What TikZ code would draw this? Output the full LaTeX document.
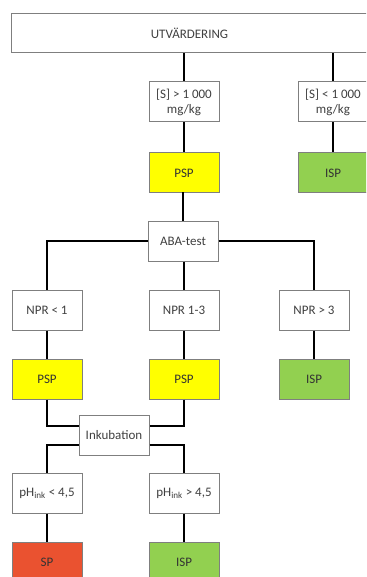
\documentclass[tikz,border=0pt]{standalone}
\usepackage{fontspec}
\setmainfont{Carlito}
\definecolor{txt}{HTML}{404040}
\definecolor{bordc}{HTML}{7F7F7F}
\definecolor{yel}{HTML}{FFFF00}
\definecolor{grn}{HTML}{92D050}
\definecolor{redc}{HTML}{EA5230}
\tikzset{
  box/.style={draw=bordc, line width=1pt, fill=white, minimum width=70pt, minimum height=40pt,
    inner sep=1pt, align=center, text=txt, font=\fontsize{13}{15}\selectfont},
  ybox/.style={box, fill=yel, text=black!80},
  gbox/.style={box, fill=grn, text=black!80},
  rbox/.style={box, fill=redc, text=black!80},
  conn/.style={line width=2.6pt, black}
}
\begin{document}
\begin{tikzpicture}[x=1pt,y=-1pt]
\useasboundingbox (0,0) rectangle (366,577);
\clip (0,0) rectangle (366,577);
\fill[white] (0,0) rectangle (366,577);
% nodes
\node[box, minimum width=357pt, minimum height=39pt] (top) at (189.5,33.5) {UTVÄRDERING};
\node[box] (s1) at (184,102) {[S] > 1 000\\mg/kg};
\node[box] (s2) at (333,102) {[S] < 1 000\\mg/kg};
\node[ybox] (psp0) at (184,173) {PSP};
\node[gbox] (isp0) at (333,173) {ISP};
\node[box] (aba) at (183,241) {ABA-test};
\node[box] (npr1) at (47,310) {NPR < 1};
\node[box] (npr2) at (184,310) {NPR 1-3};
\node[box] (npr3) at (314,310) {NPR > 3};
\node[ybox] (psp1) at (47,379) {PSP};
\node[ybox] (psp2) at (184,379) {PSP};
\node[gbox] (isp1) at (314,379) {ISP};
\node[box] (ink) at (114,435) {Inkubation};
\node[box] (ph1) at (47,493) {pH\textsubscript{ink} < 4,5};
\node[box] (ph2) at (184,493) {pH\textsubscript{ink} > 4,5};
\node[rbox] (sp) at (47,562) {SP};
\node[gbox] (isp2) at (184,562) {ISP};
% connectors
\draw[conn] (top.south -| s1.north) -- (s1.north);
\draw[conn] (top.south -| s2.north) -- (s2.north);
\draw[conn] (s1) -- (psp0);
\draw[conn] (s2) -- (isp0);
\draw[conn] (psp0.south) -- (psp0.south -| aba.north) -- (aba.north);
\draw[conn] (aba.west) -| (npr1.north);
\draw[conn] (aba.east) -| (npr3.north);
\draw[conn] (aba.south -| npr2.north) -- (npr2.north);
\draw[conn] (npr1) -- (psp1);
\draw[conn] (npr2) -- (psp2);
\draw[conn] (npr3) -- (isp1);
\draw[conn] (psp1.south) |- ([yshift=9pt]ink.west);
\draw[conn] (psp2.south) |- ([yshift=9pt]ink.east);
\draw[conn] ([yshift=-10pt]ink.west) -| (ph1.north);
\draw[conn] ([yshift=-10pt]ink.east) -| (ph2.north);
\draw[conn] (ph1) -- (sp);
\draw[conn] (ph2) -- (isp2);
\end{tikzpicture}
\end{document}
